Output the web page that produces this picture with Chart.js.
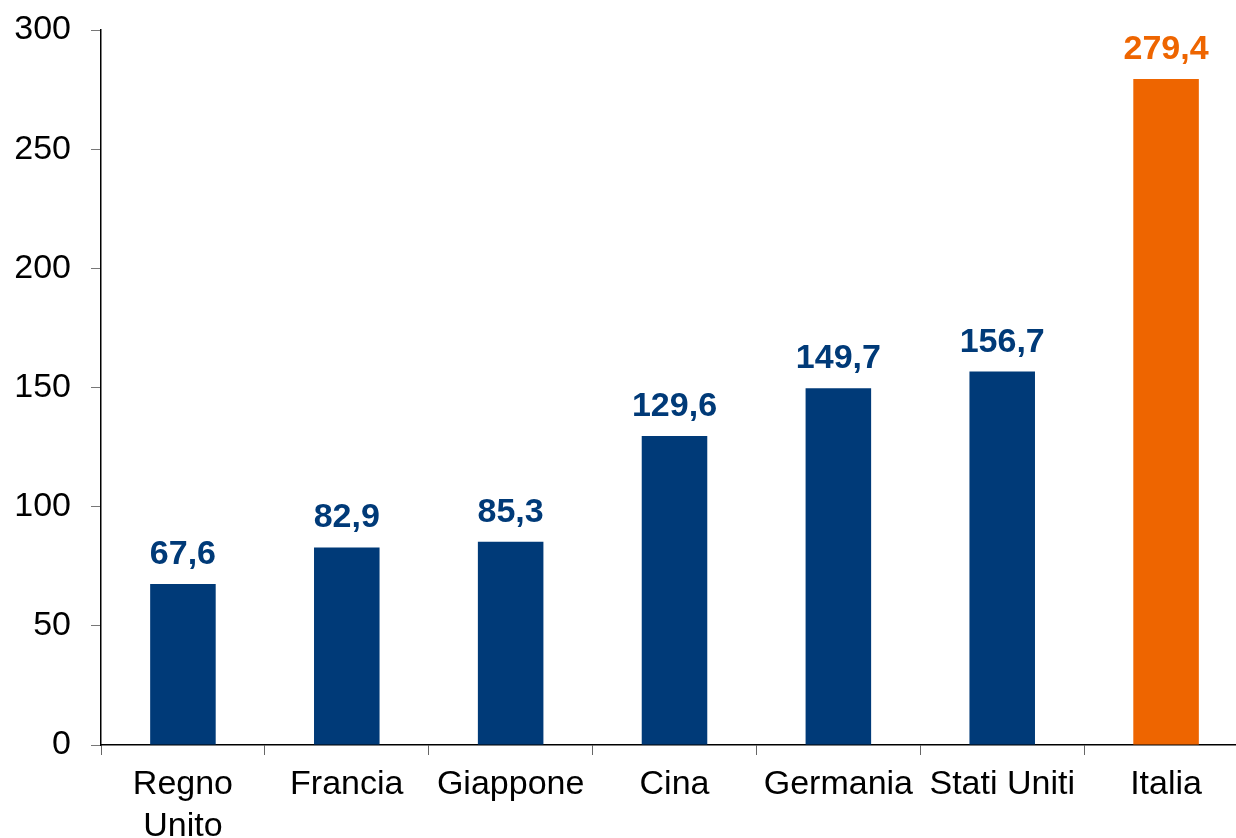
<!DOCTYPE html>
<html lang="it">
<head>
<meta charset="utf-8">
<title>Confronto per paese</title>
<script src="https://cdn.jsdelivr.net/npm/chart.js@4/dist/chart.umd.min.js"></script>
<style>
  html, body { margin: 0; padding: 0; background: #fff; overflow: hidden; }
  #wrap { position: relative; width: 1248px; height: 838px; }
</style>
</head>
<body>
<div id="wrap"><canvas id="chart" width="1248" height="838"></canvas></div>
<script>
const paesi = [['Regno', 'Unito'], 'Francia', 'Giappone', 'Cina', 'Germania', 'Stati Uniti', 'Italia'];
const valori = [67.6, 82.9, 85.3, 129.6, 149.7, 156.7, 279.4];
const coloriBarre = ['#003a78', '#003a78', '#003a78', '#003a78', '#003a78', '#003a78', '#ee6500'];
const yMin = 0, yMax = 300, yStep = 50;

const FONT = "'Liberation Sans', Arial, sans-serif";

// etichette con il valore sopra ogni barra (virgola decimale)
const valueLabels = {
  id: 'valueLabels',
  afterDatasetsDraw(chart) {
    const ctx = chart.ctx;
    const meta = chart.getDatasetMeta(0);
    ctx.save();
    ctx.font = `bold 34px ${FONT}`;
    ctx.textAlign = 'center';
    ctx.textBaseline = 'alphabetic';
    meta.data.forEach((bar, i) => {
      ctx.fillStyle = coloriBarre[i];
      ctx.fillText(valori[i].toFixed(1).replace('.', ','), bar.x, bar.y - 20);
    });
    ctx.restore();
  }
};

new Chart(document.getElementById('chart'), {
  type: 'bar',
  data: {
    labels: paesi,
    datasets: [{
      data: valori,
      backgroundColor: coloriBarre,
      borderWidth: 0,
      barPercentage: 0.4,
      categoryPercentage: 1
    }]
  },
  options: {
    responsive: false,
    animation: false,
    layout: { padding: { top: 30, left: 0, right: 0, bottom: 0 } },
    plugins: { legend: { display: false }, tooltip: { enabled: false } },
    scales: {
      x: {
        afterFit: s => { s.height = 93; s.paddingLeft = 0; s.paddingRight = 0; },
        offset: true,
        border: { color: '#000', width: 1.5 },
        grid: { offset: true, drawOnChartArea: false, drawTicks: true, tickLength: 10, color: '#666' },
        ticks: {
          color: '#000',
          font: { family: FONT, size: 34, lineHeight: 1.25 },
          padding: 8,
          maxRotation: 0,
          autoSkip: false
        }
      },
      y: {
        min: yMin,
        max: yMax,
        afterFit: s => { s.width = 101; s.paddingTop = 0; s.paddingBottom = 0; },
        border: { color: '#000', width: 1.5 },
        grid: { drawOnChartArea: false, drawTicks: true, tickLength: 10, color: '#777' },
        ticks: {
          stepSize: yStep,
          color: '#000',
          font: { family: FONT, size: 34 },
          padding: 20
        }
      }
    }
  },
  plugins: [valueLabels]
});
</script>
</body>
</html>
